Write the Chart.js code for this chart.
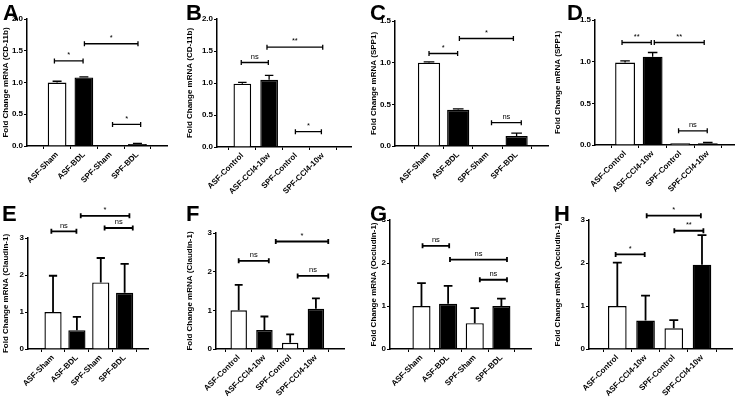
<!DOCTYPE html>
<html lang="en">
<head>
<meta charset="UTF-8">
<title>Fold change panels</title>
<style type="text/css">
    body{ margin:0; background:#fff; }
    .page{ position:relative; width:736px; height:400px; overflow:hidden; }
    .panel{ position:absolute; width:184px; height:200px; }
    .letter{ position:absolute; font-family:"Liberation Sans", Arial, sans-serif; font-weight:bold; font-size:22px; line-height:22px; }
</style>
</head>
<body>
<div class="page" id="page"></div>

<script src="https://cdn.jsdelivr.net/npm/chart.js"></script>
<script>
// categories
const bdlLabels = ['ASF-Sham', 'ASF-BDL', 'SPF-Sham', 'SPF-BDL'];
const cclLabels = ['ASF-Control', 'ASF-CCl4-10w', 'SPF-Control', 'SPF-CCl4-10w'];

// means and SEM (upper error only)
const cd11bBdl = [1.0, 1.08, 0.0, 0.03];
const cd11bBdlErr = [0.02, 0.01, 0, 0.01];
const cd11bCcl = [0.99, 1.05, 0.005, 0.005];
const cd11bCclErr = [0.02, 0.07, 0, 0];
const spp1Bdl = [1.0, 0.435, 0.005, 0.12];
const spp1BdlErr = [0.01, 0.01, 0, 0.035];
const spp1Ccl = [0.99, 1.06, 0.02, 0.02];
const spp1CclErr = [0.02, 0.05, 0, 0.01];
const claudinBdl = [1.0, 0.51, 1.8, 1.52];
const claudinBdlErr = [0.98, 0.36, 0.66, 0.78];
const claudinCcl = [1.0, 0.49, 0.16, 1.04];
const claudinCclErr = [0.66, 0.35, 0.22, 0.27];
const occludinBdl = [1.0, 1.05, 0.6, 1.0];
const occludinBdlErr = [0.53, 0.42, 0.35, 0.17];
const occludinCcl = [1.0, 0.66, 0.48, 1.96];
const occludinCclErr = [1.01, 0.58, 0.19, 0.69];

// significance brackets: [from category, to category, height, mark]
const sigA = [[-0.1, 0.97, 1.34, '*'], [1.02, 3.02, 1.61, '*'], [2.07, 3.12, 0.34, '*']];
const sigB = [[-0.04, 0.97, 1.32, 'ns'], [0.92, 3.0, 1.56, '**'], [1.98, 2.95, 0.24, '*']];
const sigC = [[0.0, 0.98, 1.11, '*'], [1.04, 2.89, 1.29, '*'], [2.14, 3.16, 0.28, 'ns']];
const sigD = [[-0.11, 0.95, 1.23, '**'], [1.06, 2.87, 1.23, '**'], [1.94, 2.98, 0.17, 'ns']];
const sigE = [[-0.07, 0.98, 3.18, 'ns'], [1.16, 3.2, 3.6, '*'], [2.16, 3.34, 3.27, 'ns']];
const sigF = [[0.0, 1.17, 2.28, 'ns'], [1.44, 3.48, 2.78, '*'], [2.29, 3.48, 1.89, 'ns']];
const sigG = [[0.04, 1.04, 2.4, 'ns'], [1.07, 3.21, 2.08, 'ns'], [2.19, 3.21, 1.61, 'ns']];
const sigH = [[-0.06, 0.97, 2.2, '*'], [1.04, 2.96, 3.1, '*'], [2.02, 3.05, 2.75, '**']];

const yTitles = ['Fold Change mRNA (CD-11b)', 'Fold Change mRNA (SPP1)',
                 'Fold Change mRNA (Claudin-1)', 'Fold Change mRNA (Occludin-1)'];

// panel list, layout numbers are page pixels (axis left, top, right, bottom)
const panels = [
  {letter:'A', col:0, row:0, labels:bdlLabels, vals:cd11bBdl, err:cd11bBdlErr, sig:sigA, title:yTitles[0], yMax:2, step:0.5,
   L:27, T:19, R:167, B:146, xMin:-0.47, xMax:3.45, bar:0.7, lx:3, ly:2},
  {letter:'B', col:1, row:0, labels:cclLabels, vals:cd11bCcl, err:cd11bCclErr, sig:sigB, title:yTitles[0], yMax:2, step:0.5,
   L:217, T:19, R:351, B:147, xMin:-0.32, xMax:3.43, bar:0.66, lx:186, ly:2},
  {letter:'C', col:2, row:0, labels:bdlLabels, vals:spp1Bdl, err:spp1BdlErr, sig:sigC, title:yTitles[1], yMax:1.5, step:0.5,
   L:395, T:21, R:548, B:146, xMin:-0.51, xMax:3.42, bar:0.76, lx:370, ly:2},
  {letter:'D', col:3, row:0, labels:cclLabels, vals:spp1Ccl, err:spp1CclErr, sig:sigD, title:yTitles[1], yMax:1.5, step:0.5,
   L:595, T:20, R:734, B:145, xMin:-0.46, xMax:3.32, bar:0.72, lx:567, ly:2},
  {letter:'E', col:0, row:1, labels:bdlLabels, vals:claudinBdl, err:claudinBdlErr, sig:sigE, title:yTitles[2], yMax:3, step:1,
   L:28, T:238, R:148, B:349, xMin:-0.42, xMax:3.35, bar:0.72, lx:2, ly:203},
  {letter:'F', col:1, row:1, labels:cclLabels, vals:claudinCcl, err:claudinCclErr, sig:sigF, title:yTitles[2], yMax:3, step:1,
   L:216, T:233, R:344, B:349, xMin:-0.26, xMax:3.47, bar:0.64, lx:186, ly:203},
  {letter:'G', col:2, row:1, labels:bdlLabels, vals:occludinBdl, err:occludinBdlErr, sig:sigG, title:yTitles[3], yMax:3, step:1,
   L:390, T:220, R:531, B:349, xMin:-0.52, xMax:3.45, bar:0.68, lx:370, ly:203},
  {letter:'H', col:3, row:1, labels:cclLabels, vals:occludinCcl, err:occludinCclErr, sig:sigH, title:yTitles[3], yMax:3, step:1,
   L:589, T:220, R:732, B:349, xMin:-0.37, xMax:3.43, bar:0.66, lx:554, ly:203}
];

const FONT = '"Liberation Sans", Arial, sans-serif';

// error bars (upper only) + significance brackets, drawn through the scales
const marksPlugin = {
  id: 'marks',
  afterDatasetsDraw(chart) {
    const p = chart.options.plugins.marks;
    const ctx = chart.ctx;
    const x = chart.scales.x, y = chart.scales.y;
    const bars = chart.getDatasetMeta(0).data;
    ctx.save();
    ctx.strokeStyle = '#000';
    ctx.lineWidth = p.lw;
    p.vals.forEach((v, i) => {
      if (!p.err[i]) return;
      const xc = x.getPixelForValue(i);
      const y0 = y.getPixelForValue(v);
      const y1 = y.getPixelForValue(v + p.err[i]);
      const cap = bars[i].width * 0.24;
      ctx.beginPath();
      ctx.moveTo(xc, y0);
      ctx.lineTo(xc, y1);
      ctx.moveTo(xc - cap, y1);
      ctx.lineTo(xc + cap, y1);
      ctx.stroke();
    });
    ctx.font = '7.5px ' + FONT;
    ctx.fillStyle = '#000';
    ctx.textAlign = 'center';
    ctx.textBaseline = 'bottom';
    p.sig.forEach(s => {
      const x1 = x.getPixelForValue(s[0]);
      const x2 = x.getPixelForValue(s[1]);
      const yy = y.getPixelForValue(s[2]);
      ctx.beginPath();
      ctx.moveTo(x1, yy); ctx.lineTo(x2, yy);
      ctx.moveTo(x1, yy - 2.5); ctx.lineTo(x1, yy + 2.5);
      ctx.moveTo(x2, yy - 2.5); ctx.lineTo(x2, yy + 2.5);
      ctx.stroke();
      ctx.fillText(s[3], (x1 + x2) / 2, yy - 2);
    });
    ctx.restore();
  }
};

const page = document.getElementById('page');

panels.forEach(p => {
  const px = p.col * 184, py = p.row * 200;
  const box = document.createElement('div');
  box.className = 'panel';
  box.style.left = px + 'px';
  box.style.top = py + 'px';
  const cv = document.createElement('canvas');
  cv.width = 184; cv.height = 200;
  box.appendChild(cv);
  page.appendChild(box);

  const lt = document.createElement('div');
  lt.className = 'letter';
  lt.textContent = p.letter;
  lt.style.left = p.lx + 'px';
  lt.style.top = p.ly + 'px';
  page.appendChild(lt);

  new Chart(cv, {
    type: 'bar',
    data: {
      datasets: [{
        data: p.vals.map((v, i) => ({x: i, y: v})),
        backgroundColor: ['#fff', '#000', '#fff', '#000'],
        borderColor: '#000',
        borderWidth: 1.4,
        barPercentage: p.bar,
        categoryPercentage: 1
      }]
    },
    plugins: [marksPlugin],
    options: {
      responsive: false,
      animation: false,
      devicePixelRatio: 1,
      layout: { padding: { top: p.T - py, right: px + 184 - p.R, left: 0, bottom: 0 } },
      plugins: {
        legend: { display: false },
        tooltip: { enabled: false },
        marks: { vals: p.vals, err: p.err, sig: p.sig, lw: p.row ? 1.8 : 1.3 }
      },
      scales: {
        x: {
          type: 'linear',
          min: p.xMin,
          max: p.xMax,
          afterBuildTicks: s => { s.ticks = p.labels.map((l, i) => ({value: i})); },
          afterFit: s => { s.height = py + 200 - p.B; },
          grid: { drawOnChartArea: false, color: '#000', tickLength: 3, lineWidth: 1 },
          border: { color: '#000', width: 1.5 },
          ticks: {
            autoSkip: false, minRotation: 45, maxRotation: 45, padding: 1,
            color: '#000', font: { family: FONT, size: 8, weight: 'bold' },
            callback: v => p.labels[v]
          }
        },
        y: {
          min: 0,
          max: p.yMax,
          afterFit: s => { s.width = p.L - px; },
          grid: { drawOnChartArea: false, color: '#000', tickLength: 3, lineWidth: 1 },
          border: { color: '#000', width: 1.5 },
          ticks: {
            stepSize: p.step, padding: 1, color: '#000',
            font: { family: FONT, size: 8, weight: 'bold' },
            callback: v => p.step < 1 ? v.toFixed(1) : v
          },
          title: {
            display: true, text: p.title, color: '#000', padding: { top: 1, bottom: 0 },
            font: { family: FONT, size: 8, weight: 'bold' }
          }
        }
      }
    }
  });
});
</script>
</body>
</html>
